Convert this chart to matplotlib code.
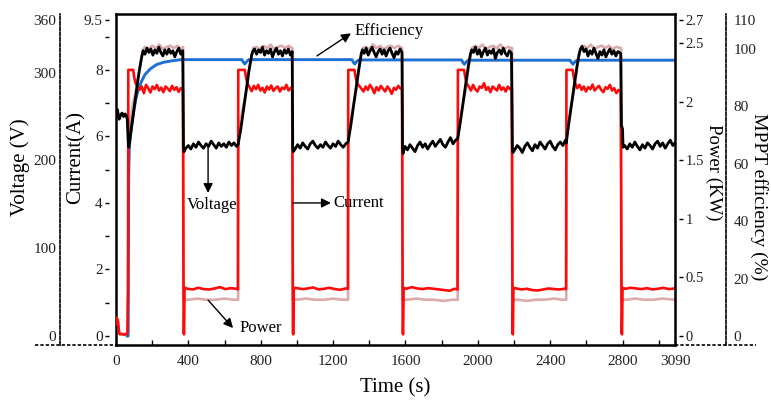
import matplotlib
matplotlib.use('Agg')
import matplotlib.pyplot as plt
from matplotlib.lines import Line2D

plt.rcParams['font.family'] = ['Liberation Serif', 'DejaVu Serif']

# Voltage (V) - black trace
volt_t = [0, 4, 8, 13, 18, 25, 33, 42, 50, 57, 62, 65, 68, 71,
          82, 95, 108, 120, 132, 142, 150,
          160, 171, 182, 193, 204, 215, 226, 237, 248, 259, 270, 281, 292, 303, 314, 325, 336, 347, 358, 369,
          373, 376,
          386, 400, 414, 428, 442, 456, 470, 484, 498, 512, 526, 540, 554, 568, 582, 596, 610, 624, 638, 652, 666, 675,
          690, 705, 720, 735, 750, 756,
          766, 777, 788, 799, 810, 821, 832, 843, 854, 865, 876, 887, 898, 909, 920, 931, 942, 953, 964, 974,
          977, 980,
          990, 1004, 1018, 1032, 1046, 1060, 1074, 1088, 1102, 1116, 1130, 1144, 1158, 1172, 1186, 1200, 1214, 1228, 1242, 1256, 1270, 1283,
          1298, 1313, 1328, 1343, 1356, 1362,
          1372, 1383, 1394, 1405, 1416, 1427, 1438, 1449, 1460, 1471, 1482, 1493, 1504, 1515, 1526, 1537, 1548, 1559, 1570, 1581,
          1584, 1587,
          1597, 1611, 1625, 1639, 1653, 1667, 1681, 1695, 1709, 1723, 1737, 1751, 1765, 1779, 1793, 1807, 1821, 1835, 1849, 1863, 1877, 1889,
          1903, 1918, 1933, 1948, 1960, 1966,
          1976, 1987, 1998, 2009, 2020, 2031, 2042, 2053, 2064, 2075, 2086, 2097, 2108, 2119, 2130, 2141, 2152, 2163, 2174, 2186,
          2191, 2194,
          2204, 2218, 2232, 2246, 2260, 2274, 2288, 2302, 2316, 2330, 2344, 2358, 2372, 2386, 2400, 2414, 2428, 2442, 2456, 2470, 2484, 2489,
          2503, 2518, 2533, 2548, 2560, 2566,
          2576, 2587, 2598, 2609, 2620, 2631, 2642, 2653, 2664, 2675, 2686, 2697, 2708, 2719, 2730, 2741, 2752, 2763, 2774, 2790,
          2794, 2800, 2803,
          2812, 2826, 2840, 2854, 2868, 2882, 2896, 2910, 2924, 2938, 2952, 2966, 2980, 2994, 3008, 3022, 3036, 3050, 3064, 3078, 3090]
volt_v = [250, 256, 258, 252, 247, 251, 254, 250, 253, 251, 247, 232, 220, 215,
          232, 252, 272, 290, 306, 318, 325,
          321, 328, 323, 327, 320, 326, 322, 329, 323, 319, 326, 321, 327, 322, 325, 318, 324, 328, 321, 325,
          216, 210,
          214, 217, 213, 219, 215, 221, 217, 214, 219, 216, 222, 218, 214, 220, 216, 219, 215, 221, 217, 220, 216, 218,
          236, 258, 280, 302, 320, 324,
          327, 321, 326, 323, 329, 320, 325, 322, 327, 318, 324, 328, 321, 325, 319, 326, 322, 327, 320, 324,
          215, 210,
          213, 218, 214, 220, 216, 213, 219, 222, 217, 214, 218, 215, 221, 217, 214, 219, 216, 222, 218, 215, 219, 221,
          240, 262, 284, 305, 322, 326,
          322, 328, 320, 325, 329, 323, 318, 324, 327, 321, 326, 319, 325, 328, 322, 317, 324, 321, 327, 323,
          214, 208,
          216, 212, 218, 214, 210, 217, 221, 215, 219, 213, 218, 222, 216, 220, 224, 218, 215, 221, 226, 219, 223, 225,
          243, 265, 287, 308, 322, 326,
          323, 329, 321, 326, 318, 324, 328, 320, 325, 322, 327, 316, 323, 326, 321, 328, 322, 319, 325, 322,
          215, 209,
          212, 217, 214, 209, 216, 220, 215, 211, 218, 214, 221, 217, 213, 219, 222, 216, 212, 218, 221, 217, 223, 220,
          242, 264, 286, 307, 321, 326,
          330, 324, 327, 319, 325, 321, 328, 322, 316, 324, 320, 326, 318, 323, 327, 321, 325, 319, 324, 322,
          240, 236, 215,
          217, 213, 219, 215, 221, 216, 212, 218, 214, 220, 217, 213, 219, 222, 216, 220, 214, 219, 223, 217, 220]

# Current (A) - red trace
cur_t = [0, 3, 6, 9, 12, 15, 18, 22, 30, 42, 55, 63, 66, 67,
         68, 95, 100, 108,
         118, 130, 142, 154, 166, 178, 190, 202, 214, 226, 238, 250, 262, 274, 286, 298, 310, 322, 334, 346, 358, 370,
         374, 376, 379,
         395, 425, 455, 485, 515, 545, 575, 605, 635, 665, 674,
         676, 712, 718, 726,
         738, 750, 762, 774, 786, 798, 810, 822, 834, 846, 858, 870, 882, 894, 906, 918, 930, 942, 954, 966, 974,
         978, 980, 983,
         1000, 1030, 1060, 1090, 1120, 1150, 1180, 1210, 1240, 1270, 1282,
         1284, 1318, 1324, 1332,
         1344, 1356, 1368, 1380, 1392, 1404, 1416, 1428, 1440, 1452, 1464, 1476, 1488, 1500, 1512, 1524, 1536, 1548, 1560, 1572, 1581,
         1585, 1587, 1590,
         1605, 1635, 1665, 1695, 1725, 1755, 1785, 1815, 1845, 1870, 1888,
         1890, 1924, 1930, 1938,
         1950, 1962, 1974, 1986, 1998, 2010, 2022, 2034, 2046, 2058, 2070, 2082, 2094, 2106, 2118, 2130, 2142, 2154, 2166, 2178, 2188,
         2192, 2194, 2197,
         2212, 2242, 2272, 2302, 2332, 2362, 2392, 2422, 2452, 2478, 2488,
         2490, 2524, 2530, 2538,
         2550, 2562, 2574, 2586, 2598, 2610, 2622, 2634, 2646, 2658, 2670, 2682, 2694, 2706, 2718, 2730, 2742, 2754, 2766, 2778, 2790,
         2795, 2797, 2800,
         2815, 2845, 2875, 2905, 2935, 2965, 2995, 3025, 3055, 3090]
cur_v = [0.45, 0.55, 0.35, 0.5, 0.42, 0.2, 0.08, 0.05, 0.06, 0.04, 0.05, 0.08, 1.0, 1.4,
         8.0, 8.0, 7.8, 7.6,
         7.52, 7.4, 7.5, 7.3, 7.55, 7.45, 7.32, 7.5, 7.42, 7.55, 7.38, 7.47, 7.33, 7.5, 7.44, 7.36, 7.52, 7.4, 7.48, 7.34, 7.45, 7.4,
         0.1, 0.05, 1.45,
         1.42, 1.4, 1.45, 1.41, 1.4, 1.43, 1.47, 1.41, 1.44, 1.42, 1.4,
         8.0, 8.0, 7.8, 7.6,
         7.48, 7.36, 7.52, 7.42, 7.55, 7.38, 7.46, 7.32, 7.5, 7.41, 7.53, 7.37, 7.45, 7.5, 7.35, 7.47, 7.42, 7.55, 7.38, 7.46, 7.4,
         0.1, 0.05, 1.45,
         1.44, 1.41, 1.43, 1.46, 1.4, 1.42, 1.45, 1.41, 1.39, 1.43, 1.42,
         8.0, 8.0, 7.8, 7.6,
         7.52, 7.44, 7.35, 7.5, 7.4, 7.55, 7.45, 7.3, 7.48, 7.38, 7.52, 7.43, 7.35, 7.5, 7.42, 7.28, 7.46, 7.4, 7.52, 7.44, 7.42,
         0.1, 0.05, 1.45,
         1.42, 1.47, 1.43, 1.41, 1.44, 1.42, 1.4, 1.38, 1.36, 1.42, 1.4,
         8.0, 8.0, 7.8, 7.6,
         7.5, 7.38, 7.55, 7.42, 7.35, 7.5, 7.46, 7.6, 7.4, 7.48, 7.33, 7.5, 7.44, 7.38, 7.55, 7.4, 7.47, 7.35, 7.5, 7.42, 7.45,
         0.1, 0.05, 1.45,
         1.43, 1.4, 1.42, 1.38, 1.37, 1.4, 1.43, 1.41, 1.4, 1.42, 1.41,
         8.0, 8.0, 7.8, 7.6,
         7.45, 7.55, 7.4, 7.5, 7.35, 7.48, 7.42, 7.56, 7.38, 7.46, 7.52, 7.4, 7.33, 7.48, 7.43, 7.55, 7.38, 7.45, 7.3, 7.4, 7.35,
         0.1, 0.05, 1.45,
         1.42, 1.45, 1.43, 1.41, 1.44, 1.4, 1.42, 1.45, 1.41, 1.43]

# Power (KW) - light trace
pow_t = [0, 12, 18, 60, 66,
         68, 82, 95, 108, 120, 132, 142, 150,
         160, 180, 200, 220, 240, 260, 280, 300, 320, 340, 360, 371,
         373, 400, 450, 500, 550, 600, 650, 675,
         676, 690, 705, 720, 735, 750, 758,
         775, 795, 815, 835, 855, 875, 895, 915, 935, 955, 975,
         977, 1000, 1050, 1100, 1150, 1200, 1250, 1283,
         1284, 1298, 1313, 1328, 1343, 1356, 1364,
         1380, 1400, 1420, 1440, 1460, 1480, 1500, 1520, 1540, 1560, 1582,
         1584, 1610, 1660, 1710, 1760, 1810, 1860, 1889,
         1890, 1903, 1918, 1933, 1948, 1960, 1968,
         1985, 2005, 2025, 2045, 2065, 2085, 2105, 2125, 2145, 2165, 2189,
         2191, 2220, 2270, 2320, 2370, 2420, 2470, 2489,
         2490, 2503, 2518, 2533, 2548, 2560, 2568,
         2585, 2605, 2625, 2645, 2665, 2685, 2705, 2725, 2745, 2765, 2792,
         2794, 2820, 2870, 2920, 2970, 3020, 3090]
pow_v = [0.11, 0.1, 0.02, 0.02, 0.02,
         1.72, 1.85, 2.0, 2.08, 2.2, 2.3, 2.38, 2.45,
         2.47, 2.45, 2.48, 2.46, 2.49, 2.45, 2.47, 2.48, 2.46, 2.48, 2.45, 2.47,
         0.31, 0.31, 0.32, 0.31, 0.31, 0.32, 0.31, 0.31,
         1.72, 1.85, 1.98, 2.1, 2.28, 2.4, 2.46,
         2.47, 2.45, 2.48, 2.46, 2.49, 2.45, 2.47, 2.48, 2.46, 2.48, 2.46,
         0.31, 0.31, 0.32, 0.31, 0.31, 0.32, 0.31, 0.31,
         1.72, 1.85, 1.98, 2.1, 2.28, 2.4, 2.46,
         2.47, 2.45, 2.49, 2.46, 2.48, 2.45, 2.47, 2.48, 2.46, 2.48, 2.46,
         0.31, 0.31, 0.32, 0.31, 0.31, 0.3, 0.31, 0.31,
         1.72, 1.85, 1.98, 2.1, 2.28, 2.4, 2.46,
         2.48, 2.46, 2.49, 2.45, 2.47, 2.48, 2.46, 2.49, 2.45, 2.47, 2.46,
         0.31, 0.31, 0.3, 0.31, 0.31, 0.32, 0.31, 0.31,
         1.72, 1.85, 1.98, 2.1, 2.28, 2.4, 2.46,
         2.48, 2.46, 2.49, 2.45, 2.47, 2.48, 2.46, 2.48, 2.45, 2.47, 2.46,
         0.31, 0.31, 0.32, 0.31, 0.31, 0.32, 0.31]

# MPPT efficiency (%) - blue trace
eff_t = [62, 67, 68, 70, 74, 82, 95, 108, 122, 140, 160, 190, 225, 265, 310, 360,
         696, 704, 712, 722, 734,
         1304, 1312, 1320, 1330, 1342,
         1910, 1918, 1926, 1936, 1948,
         2510, 2518, 2526, 2536, 2548, 3090]
eff_v = [0, 0, 20, 55, 66, 71, 77, 82, 85.5, 88.5, 91, 93, 94.5, 95.3, 95.8, 96.2,
         96.2, 95.3, 94.7, 95.5, 96.2,
         96.2, 95.3, 94.7, 95.5, 96.1,
         96.1, 95.2, 94.6, 95.4, 96.0,
         96.0, 95.2, 94.6, 95.4, 96.0, 96.0]

x_major = [0, 400, 800, 1200, 1600, 2000, 2400, 2800, 3090]
x_minor = [200, 600, 1000, 1400, 1800, 2200, 2600, 3000]
cur_ticks = [0, 2, 4, 6, 8, 9.5]
cur_minor = [1, 3, 5, 7, 9]
volt_ticks = [0, 100, 200, 300, 360]
pow_ticks = [0, 0.5, 1, 1.5, 2, 2.5, 2.7]
pow_labels = ['0', '0.5', '1', '1.5', '2', '2.5', '2.7']
eff_ticks = [0, 20, 40, 60, 80, 100, 110]

W, H = 771, 409
fig = plt.figure(figsize=(W / 100, H / 100), dpi=100)
ax = fig.add_axes([116 / W, 64 / H, 559 / W, 331 / H])
ax_p = ax.twinx()
ax_e = ax.twinx()
ax_v = ax.twinx()

cur_lim = (-0.27, 9.68)
ax.set_ylim(cur_lim)
ax_p.set_ylim(cur_lim[0] * 2.7 / 9.5, cur_lim[1] * 2.7 / 9.5)
ax_e.set_ylim(cur_lim[0] * 110 / 9.5, cur_lim[1] * 110 / 9.5)
ax_v.set_ylim(cur_lim[0] * 360 / 9.5, cur_lim[1] * 360 / 9.5)
ax.set_xlim(0, 3090)

# stacking: power, efficiency, current, voltage
ax_p.set_zorder(0)
ax_e.set_zorder(1)
ax.set_zorder(2)
ax_v.set_zorder(3)
ax.patch.set_visible(False)

ax_p.plot(pow_t, pow_v, color='#dcaaaa', lw=1.9, solid_joinstyle='round')
ax_e.plot(eff_t, eff_v, color='#1e6fd2', lw=2.1)
ax.plot(cur_t, cur_v, color='#ff0a0a', lw=1.9, solid_joinstyle='round')
ax_v.plot(volt_t, volt_v, color='black', lw=2.0, solid_joinstyle='round')

dash = (0, (2, 1.2))
tick_col = '#222222'

# main frame: top / right / bottom from ax, left from ax_p
for s in ['top', 'right', 'bottom']:
    ax.spines[s].set_linewidth(1.8)
ax.spines['left'].set_position(('outward', 5))
ax.spines['left'].set_visible(False)
ax.set_xticks(x_major)
ax.set_xticks(x_minor, minor=True)
ax.tick_params(axis='x', which='both', direction='in', length=3.6, width=1.0,
               pad=7, labelsize=11, labelcolor=tick_col)
ax.set_yticks(cur_ticks)
ax.set_yticklabels(['0', '2', '4', '6', '8', '9.5'])
ax.set_yticks(cur_minor, minor=True)
ax.tick_params(axis='y', which='both', direction='out', length=3, width=1.0,
               pad=1.5, labelsize=11, labelcolor=tick_col)

for s in ['top', 'bottom']:
    ax_p.spines[s].set_visible(False)
ax_p.spines['left'].set_linewidth(1.8)
ax_p.spines['right'].set_position(('outward', 3))
ax_p.spines['right'].set_visible(False)
ax_p.set_yticks(pow_ticks)
ax_p.set_yticklabels(pow_labels)
ax_p.tick_params(axis='y', direction='out', length=3, width=1.0, pad=1.5,
                 labelsize=10.5, labelcolor=tick_col)

for s in ['top', 'bottom', 'left']:
    ax_e.spines[s].set_visible(False)
ax_e.spines['right'].set_position(('outward', 37))
ax_e.spines['right'].set_linestyle(dash)
ax_e.spines['right'].set_linewidth(1.2)
ax_e.set_yticks(eff_ticks)
ax_e.tick_params(axis='y', length=0, pad=5, labelsize=11, labelcolor=tick_col)

for s in ['top', 'bottom', 'right']:
    ax_v.spines[s].set_visible(False)
ax_v.yaxis.tick_left()
ax_v.spines['left'].set_visible(True)
ax_v.spines['left'].set_position(('outward', 40))
ax_v.spines['left'].set_linestyle(dash)
ax_v.spines['left'].set_linewidth(1.2)
ax_v.set_yticks(volt_ticks)
ax_v.tick_params(axis='y', length=0, pad=3, labelsize=11, labelcolor=tick_col)

# dotted extensions of the time axis under the outer scales
fig.add_artist(Line2D([35 / W, 116 / W], [64 / H, 64 / H], transform=fig.transFigure,
                      color='black', lw=1.2, ls=dash))
fig.add_artist(Line2D([675 / W, 756 / W], [64 / H, 64 / H], transform=fig.transFigure,
                      color='black', lw=1.2, ls=dash))

# annotations
arr = dict(arrowstyle='-|>', color='black', lw=1.0, mutation_scale=14, shrinkA=0, shrinkB=0)
ax_v.annotate('', xy=(1299, 9.1 * 360 / 9.5), xytext=(1111, 8.42 * 360 / 9.5), arrowprops=arr)
ax_v.text(1316, 9.17 * 360 / 9.5, 'Efficiency', fontsize=12, ha='left', va='center')
ax_v.annotate('', xy=(509, 4.3 * 360 / 9.5), xytext=(509, 5.74 * 360 / 9.5), arrowprops=arr)
ax_v.text(531, 3.94 * 360 / 9.5, 'Voltage', fontsize=12, ha='center', va='center')
ax_v.annotate('', xy=(1188, 4.0 * 360 / 9.5), xytext=(978, 4.0 * 360 / 9.5), arrowprops=arr)
ax_v.text(1199, 4.0 * 360 / 9.5, 'Current', fontsize=12, ha='left', va='center')
ax_v.annotate('', xy=(647, 0.24 * 360 / 9.5), xytext=(509, 1.08 * 360 / 9.5), arrowprops=arr)
ax_v.text(685, 0.24 * 360 / 9.5, 'Power', fontsize=12, ha='left', va='center')

fig.text(20 / W, 1 - 167 / H, 'Voltage (V)', rotation=90, fontsize=15, ha='center', va='center')
fig.text(76 / W, 1 - 158 / H, 'Current(A)', rotation=90, fontsize=15, ha='center', va='center')
fig.text(714 / W, 1 - 172 / H, 'Power (KW)', rotation=270, fontsize=13.5, ha='center', va='center')
fig.text(759 / W, 1 - 197 / H, 'MPPT efficiency (%)', rotation=270, fontsize=14, ha='center', va='center')
fig.text(395 / W, 1 - 388 / H, 'Time (s)', fontsize=15, ha='center', va='center')

fig.savefig('out.png', dpi=100)
